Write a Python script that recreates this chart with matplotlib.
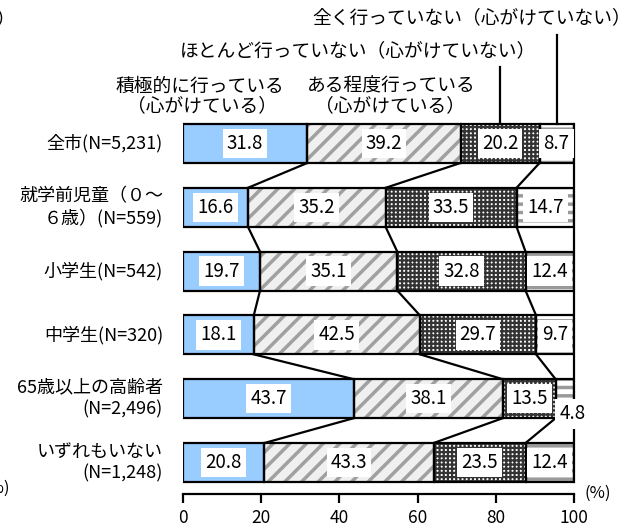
import matplotlib
matplotlib.use("Agg")
import matplotlib.pyplot as plt

plt.rcParams['font.family'] = ['Noto Sans CJK JP', 'DejaVu Sans']
plt.rcParams['hatch.linewidth'] = 2.5

# Data
categories = [
    ["全市(N=5,231)"],
    ["就学前児童（０～", "６歳）(N=559)"],
    ["小学生(N=542)"],
    ["中学生(N=320)"],
    ["65歳以上の高齢者", "(N=2,496)"],
    ["いずれもいない", "(N=1,248)"],
]
active = [31.8, 16.6, 19.7, 18.1, 43.7, 20.8]      # 積極的に行っている
somewhat = [39.2, 35.2, 35.1, 42.5, 38.1, 43.3]    # ある程度行っている
rarely = [20.2, 33.5, 32.8, 29.7, 13.5, 23.5]      # ほとんど行っていない
never = [8.7, 14.7, 12.4, 9.7, 4.8, 12.4]          # 全く行っていない
x_ticks = [0, 20, 40, 60, 80, 100]

W, H = 634, 530
BAR_H = 0.61


def px(x, y):
    # pixel position (from top-left) -> figure fraction
    return x / W, 1 - y / H


fig = plt.figure(figsize=(W / 100, H / 100), dpi=100)
ax = fig.add_axes([183 / W, 36 / H, 391 / W, 382.4 / H])

series = [active, somewhat, rarely, never]
styles = [
    dict(color="#99ccff", edgecolor="#99ccff", hatch=None, hlw=2.5),
    dict(color="#f0f0f0", edgecolor="#a0a0a0", hatch="//", hlw=2.5),
    dict(color="white", edgecolor="#333333", hatch="++++", hlw=1.6),
    dict(color="white", edgecolor="#9a9a9a", hatch="--", hlw=2.5),
]

rows = list(range(len(categories)))
left = [0.0] * len(rows)
bounds = []
for vals, st in zip(series, styles):
    with plt.rc_context({"hatch.linewidth": st["hlw"]}):
        bars = ax.barh(rows, vals, left=left, height=BAR_H, color=st["color"],
                       edgecolor=st["edgecolor"], hatch=st["hatch"], linewidth=0, zorder=2)
    for p in bars:
        if hasattr(p, "set_hatch_linewidth"):
            p.set_hatch_linewidth(st["hlw"])
    ax.barh(rows, vals, left=left, height=BAR_H, fill=False,
            edgecolor="black", linewidth=1.6, zorder=3)
    for i, v in enumerate(vals):
        cx, cy = left[i] + v / 2, rows[i]
        if v < 6:
            cx, cy = left[i] + v - 0.5, rows[i] + 0.24
        ax.text(cx, cy, f"{v:.1f}", ha="center", va="center", fontsize=13.5,
                zorder=5, bbox=dict(boxstyle="square,pad=0.22", fc="white", ec="none"))
    left = [l + v for l, v in zip(left, vals)]
    bounds.append(list(left))

# connector lines between bars
for b in bounds[:-1]:
    for i in range(len(rows) - 1):
        ax.plot([b[i], b[i + 1]], [rows[i] + BAR_H / 2, rows[i + 1] - BAR_H / 2],
                color="black", linewidth=1.6, zorder=4)

# leader lines for the top labels
c3 = active[0] + somewhat[0] + rarely[0] / 2
c4 = active[0] + somewhat[0] + rarely[0] + never[0] / 2
ax.plot([c3, c3], [-BAR_H / 2, -1.2], color="black", linewidth=1.6, clip_on=False)
ax.plot([c4, c4], [-BAR_H / 2, -1.7], color="black", linewidth=1.6, clip_on=False)

ax.set_xlim(0, 100)
ax.set_ylim(5.494, -0.5)
ax.set_xticks(x_ticks)
ax.set_yticks([])
for s in ["top", "left"]:
    ax.spines[s].set_visible(False)
ax.spines["bottom"].set_linewidth(1.6)
ax.spines["right"].set_linewidth(1.6)
ax.spines["right"].set_bounds(5 + BAR_H / 2, -BAR_H / 2)
ax.spines["right"].set_zorder(4)
ax.tick_params(axis="x", direction="out", length=6.5, width=1.6, pad=4, labelsize=12.5)

# category labels
for i, lines in enumerate(categories):
    offs = [0] if len(lines) == 1 else [11, -11]
    for line, dy in zip(lines, offs):
        ax.annotate(line, xy=(0, rows[i]), xycoords=("axes fraction", "data"),
                    xytext=(-20, dy), textcoords="offset pixels",
                    ha="right", va="center", fontsize=13)

# top labels
fig.text(*px(200, 86), "積極的に行っている", ha="center", va="center", fontsize=13.5)
fig.text(*px(202, 106), "（心がけている）", ha="center", va="center", fontsize=13.5)
fig.text(*px(391, 86), "ある程度行っている", ha="center", va="center", fontsize=13.5)
fig.text(*px(390, 106), "（心がけている）", ha="center", va="center", fontsize=13.5)
fig.text(*px(358, 51), "ほとんど行っていない（心がけていない）", ha="center", va="center", fontsize=13.5)
fig.text(*px(472, 18), "全く行っていない（心がけていない）", ha="center", va="center", fontsize=13.5)
fig.text(*px(598, 493), "(%)", ha="center", va="center", fontsize=12)

# pieces of neighbouring text cut at the left edge (as in the source image)
fig.text(*px(15, 19), "ない）", ha="right", va="center", fontsize=13.5)
fig.text(*px(10, 488), "(%)", ha="right", va="center", fontsize=12)

fig.savefig("out.png", dpi=100)
